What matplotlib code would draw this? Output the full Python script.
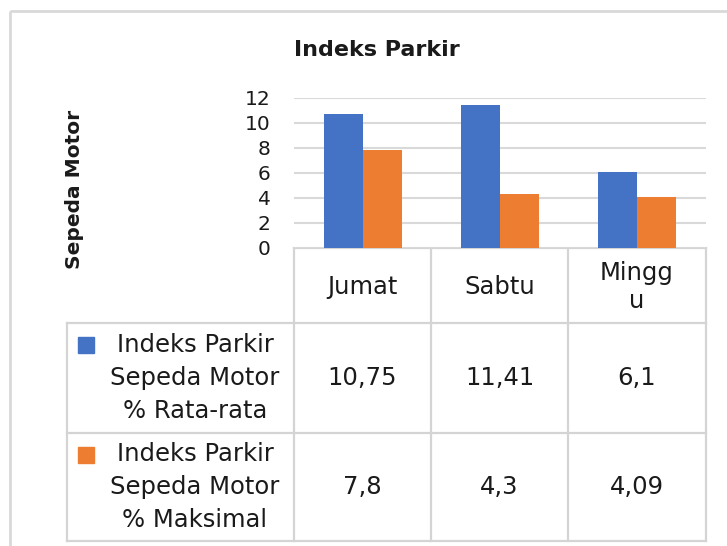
import numpy as np
import matplotlib.pyplot as plt
from matplotlib.patches import Rectangle

# data
categories = ["Jumat", "Sabtu", "Minggu"]
header_labels = ["Jumat", "Sabtu", "Mingg\nu"]
series_names = ["Indeks Parkir\nSepeda Motor\n% Rata-rata",
                "Indeks Parkir\nSepeda Motor\n% Maksimal"]
rata_rata = [10.75, 11.41, 6.1]
maksimal = [7.8, 4.3, 4.09]
yticks = [0, 2, 4, 6, 8, 10, 12]

BLUE = "#4472C4"
ORANGE = "#ED7D31"
GRID = "#d9d9d9"
TXT = "#1a1a1a"
FONT = "DejaVu Sans"

W, H = 727, 546
fig = plt.figure(figsize=(W / 100, H / 100), dpi=100)

# plot area in pixel coords
px0, px1, py_top, py_bot = 294, 706, 98, 248
ax = fig.add_axes([px0 / W, 1 - py_bot / H, (px1 - px0) / W, (py_bot - py_top) / H])
x = np.arange(len(categories))
bw = 0.285
ax.bar(x - bw / 2, rata_rata, bw, color=BLUE, zorder=3)
ax.bar(x + bw / 2, maksimal, bw, color=ORANGE, zorder=3)
ax.set_xlim(-0.5, len(categories) - 0.5)
ax.set_ylim(0, 12)
ax.set_yticks(yticks)
ax.set_yticklabels([str(t) for t in yticks], fontsize=14.5, family=FONT, color=TXT)
ax.yaxis.grid(True, color=GRID, linewidth=1.5, zorder=0)
ax.set_xticks([])
ax.tick_params(axis="y", length=0, pad=17)
for s in ax.spines.values():
    s.set_visible(False)

# overlay in pixel coordinates for table, title and frame
ov = fig.add_axes([0, 0, 1, 1], zorder=-1)
ov.set_xlim(0, W)
ov.set_ylim(H, 0)
ov.axis("off")

ov.add_patch(Rectangle((10, 11), W, H, fill=False, edgecolor="#d9d9d9", linewidth=2))

ov.text(377, 50, "Indeks Parkir", ha="center", va="center", fontsize=16,
        fontweight="bold", family=FONT, color=TXT)
ov.text(74, 189, "Sepeda Motor", ha="center", va="center", rotation=90,
        fontsize=14.5, fontweight="bold", family=FONT, color=TXT)

# table grid
col_x = [294, 431, 568, 706]
lbl_x0 = 67
row_y = [248, 323, 433, 541]
lc = "#d4d4d4"
lw = 1.6
for cx in col_x:
    ov.plot([cx, cx], [row_y[0], row_y[-1]], color=lc, lw=lw)
ov.plot([lbl_x0, lbl_x0], [row_y[1], row_y[-1]], color=lc, lw=lw)
for ry in row_y[1:]:
    ov.plot([lbl_x0, col_x[-1]], [ry, ry], color=lc, lw=lw)
ov.plot([col_x[0], col_x[-1]], [row_y[0], row_y[0]], color=lc, lw=lw)

# header row
for i, lab in enumerate(header_labels):
    cx = (col_x[i] + col_x[i + 1]) / 2
    ov.text(cx, 287, lab, ha="center", va="center",
            fontsize=17.5, family=FONT, color=TXT, linespacing=1.2)

# data rows
for r, (name, vals, col) in enumerate(zip(series_names, [rata_rata, maksimal], [BLUE, ORANGE])):
    y0, y1 = row_y[r + 1], row_y[r + 2]
    ym = (y0 + y1) / 2
    ov.add_patch(Rectangle((78, y0 + 14), 16, 16, color=col))
    ov.text(195, ym, name, ha="center", va="center", fontsize=17.5,
            family=FONT, color=TXT, linespacing=1.46)
    for i, v in enumerate(vals):
        cx = (col_x[i] + col_x[i + 1]) / 2
        ov.text(cx, ym, str(v).replace(".", ","), ha="center", va="center",
                fontsize=17.5, family=FONT, color=TXT)

fig.savefig("out.png", dpi=100)
